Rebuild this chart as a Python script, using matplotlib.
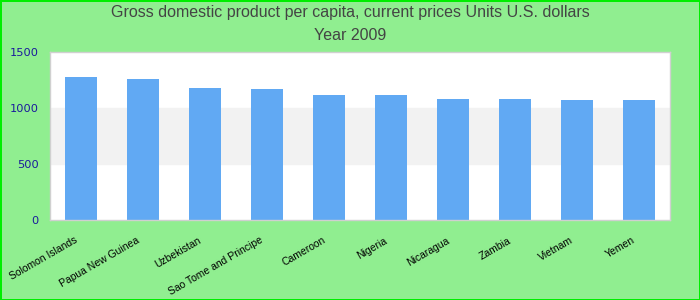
import matplotlib
matplotlib.use("Agg")
import matplotlib.pyplot as plt
import matplotlib.transforms as mtransforms
import numpy as np

countries = ["Solomon Islands", "Papua New Guinea", "Uzbekistan", "Sao Tome and Principe",
             "Cameroon", "Nigeria", "Nicaragua", "Zambia", "Vietnam", "Yemen"]
gdp = [1273, 1255, 1175, 1166, 1113, 1113, 1077, 1077, 1068, 1068]
yticks = [0, 500, 1000, 1500]

plt.rcParams['font.family'] = ['Liberation Sans', 'DejaVu Sans']

fig = plt.figure(figsize=(7, 3), dpi=100)
fig.patch.set_facecolor('#90ee90')
fig.patch.set_edgecolor('#00ee00')
fig.patch.set_linewidth(2)

ax = fig.add_axes([50/700, 80/300, 620/700, 168.5/300])
ax.set_facecolor('white')
ax.axhspan(500, 1000, color='#f2f2f2', zorder=0)
x = np.arange(len(countries))
ax.bar(x, gdp, width=0.52, color='#61a9f3', zorder=2)
ax.set_xlim(-0.5, len(countries) - 0.5)
ax.set_ylim(0, 1500)
ax.set_yticks(yticks)
ax.set_yticklabels([str(v) for v in yticks], color='#1a1a9c', fontsize=8.2,
                   family='DejaVu Sans')
ax.set_xticks(x)
ax.set_xticklabels(countries, rotation=30, ha='right', rotation_mode='anchor', fontsize=7.5)
ax.tick_params(axis='y', length=0, pad=8)
ax.tick_params(axis='x', length=0, pad=11)
offset = mtransforms.ScaledTranslation(-7/100, 0, fig.dpi_scale_trans)
for lbl in ax.get_xticklabels():
    lbl.set_transform(lbl.get_transform() + offset)
for s in ax.spines.values():
    s.set_color('#d0d0d0')
    s.set_linewidth(1)

fig.text(0.5, 1 - 13/300, "Gross domestic product per capita, current prices Units U.S. dollars",
         ha='center', va='center', fontsize=11.5, color='#444444')
fig.text(0.5, 1 - 36/300, "Year 2009", ha='center', va='center', fontsize=11.5, color='#444444')

fig.savefig("out.png", dpi=100, facecolor=fig.get_facecolor(), edgecolor=fig.get_edgecolor())
